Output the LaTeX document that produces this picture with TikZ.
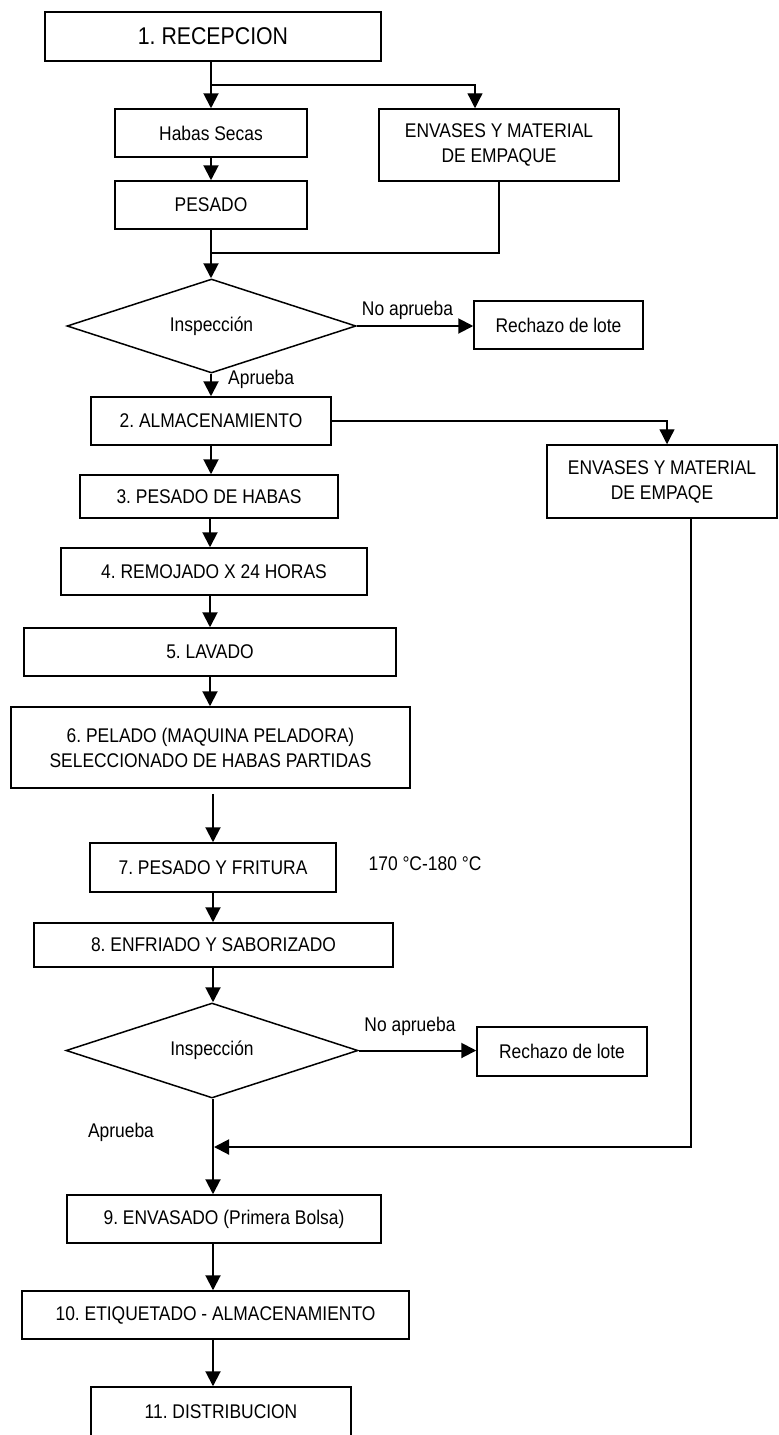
\documentclass[tikz,border=0pt]{standalone}
\usepackage{fontspec}
\setmainfont{Liberation Sans}[FakeStretch=0.88]
\frenchspacing
\usetikzlibrary{shapes.geometric,arrows.meta}
\begin{document}
\begin{tikzpicture}[x=1pt,y=-1pt,
  box/.style={draw, rectangle, line width=1.5pt, inner sep=2pt, align=center,
    font=\fontsize{19.8}{25}\selectfont},
  dec/.style={draw, diamond, aspect=3, line width=1.5pt, inner sep=1pt,
    font=\fontsize{19.8}{25}\selectfont},
  lbl/.style={inner sep=0pt, font=\fontsize{19.8}{21}\selectfont},
  arr/.style={line width=2pt, -{Triangle[width=15pt,length=15pt]}},
  tarr/.style={line width=1.3pt, -{Triangle[width=15pt,length=15pt]}},
  ln/.style={line width=1.3pt}]
\useasboundingbox (0,0) rectangle (779,1435);
% nodes
\node[box, minimum width=336pt, minimum height=49pt, font=\fontsize{24.2}{25}\selectfont] (rec) at (213,36.5) {1. RECEPCION};
\node[box, minimum width=192pt, minimum height=48pt] (habas) at (211,133) {Habas Secas};
\node[box, minimum width=240pt, minimum height=72pt] (env1) at (499,145) {ENVASES Y MATERIAL\\DE EMPAQUE};
\node[box, minimum width=192pt, minimum height=48pt] (pes) at (211,205) {PESADO};
\node[dec, minimum width=289pt, minimum height=94pt] (ins1) at (211.5,326) {Inspección};
\node[box, minimum width=169pt, minimum height=48pt] (rech1) at (558.5,325) {Rechazo de lote};
\node[box, minimum width=240pt, minimum height=48pt] (alm) at (211,421) {2. ALMACENAMIENTO};
\node[box, minimum width=230pt, minimum height=73pt] (env2) at (662,481.5) {ENVASES Y MATERIAL\\DE EMPAQE};
\node[box, minimum width=258pt, minimum height=43pt] (pdh) at (209,496.5) {3. PESADO DE HABAS};
\node[box, minimum width=306pt, minimum height=47pt] (rem) at (214,571.5) {4. REMOJADO X 24 HORAS};
\node[box, minimum width=372pt, minimum height=48pt] (lav) at (210,652) {5. LAVADO};
\node[box, minimum width=399pt, minimum height=81pt] (pel) at (210.5,747.5) {6. PELADO (MAQUINA PELADORA)\\SELECCIONADO DE HABAS PARTIDAS};
\node[box, minimum width=246pt, minimum height=49pt] (fri) at (213,867.5) {7. PESADO Y FRITURA};
\node[lbl] (temp) at (425,864) {170 °C-180 °C};
\node[box, minimum width=359pt, minimum height=44pt] (enf) at (213.5,945) {8. ENFRIADO Y SABORIZADO};
\node[dec, minimum width=292pt, minimum height=95pt] (ins2) at (212,1050.5) {Inspección};
\node[box, minimum width=170pt, minimum height=49pt] (rech2) at (562,1051.5) {Rechazo de lote};
\node[box, minimum width=314pt, minimum height=48pt] (envs) at (224,1219) {9. ENVASADO (Primera Bolsa)};
\node[box, minimum width=387pt, minimum height=48pt] (eti) at (215.5,1315) {10. ETIQUETADO - ALMACENAMIENTO};
\node[box, minimum width=260pt, minimum height=50pt] (dis) at (221,1412) {11. DISTRIBUCION};
% helper coordinates
\coordinate (cxa) at (211,0);
\coordinate (cxb) at (210,0);
\coordinate (cxc) at (213,0);
\coordinate (b1) at (211,85);
\coordinate (j1) at (211,253);
\coordinate (j2) at (214,1147);
% connectors
\draw[arr] (rec.south -| cxa) -- (habas.north);
\draw[tarr] (b1) -| ([xshift=-24pt]env1.north);
\draw[arr] (habas.south) -- (pes.north);
\draw[arr] (pes.south) -- (pes.south |- ins1.north);
\draw[ln] (env1.south) |- (j1);
\draw[arr] (ins1.east) -- (ins1.east -| rech1.west);
\node[lbl] (na1) at (407.5,310) {No aprueba};
\draw[arr] (ins1.south -| cxa) -- (alm.north -| cxa);
\node[lbl, anchor=west] (ap1) at (228,379) {Aprueba};
\draw[tarr] (alm.east) -| ([xshift=5pt]env2.north);
\draw[arr] (alm.south -| cxa) -- (pdh.north -| cxa);
\draw[arr] (pdh.south -| cxb) -- (rem.north -| cxb);
\draw[arr] (rem.south -| cxb) -- (lav.north -| cxb);
\draw[arr] (lav.south -| cxb) -- (pel.north -| cxb);
\draw[arr] ([yshift=-5pt]pel.south -| cxc) -- (fri.north -| cxc);
\draw[arr] (fri.south -| cxc) -- (enf.north -| cxc);
\draw[arr] (enf.south -| cxc) -- (ins2.north -| cxc);
\draw[arr] (ins2.east) -- (ins2.east -| rech2.west);
\node[lbl] (na2) at (410,1026) {No aprueba};
\draw[arr] (ins2.south -| cxc) -- (envs.north -| cxc);
\node[lbl] (ap2) at (121,1132) {Aprueba};
\draw[arr] ([xshift=29pt]env2.south) |- (j2);
\draw[arr] (envs.south -| cxc) -- (eti.north -| cxc);
\draw[arr] (eti.south -| cxc) -- (dis.north -| cxc);
\end{tikzpicture}
\end{document}
